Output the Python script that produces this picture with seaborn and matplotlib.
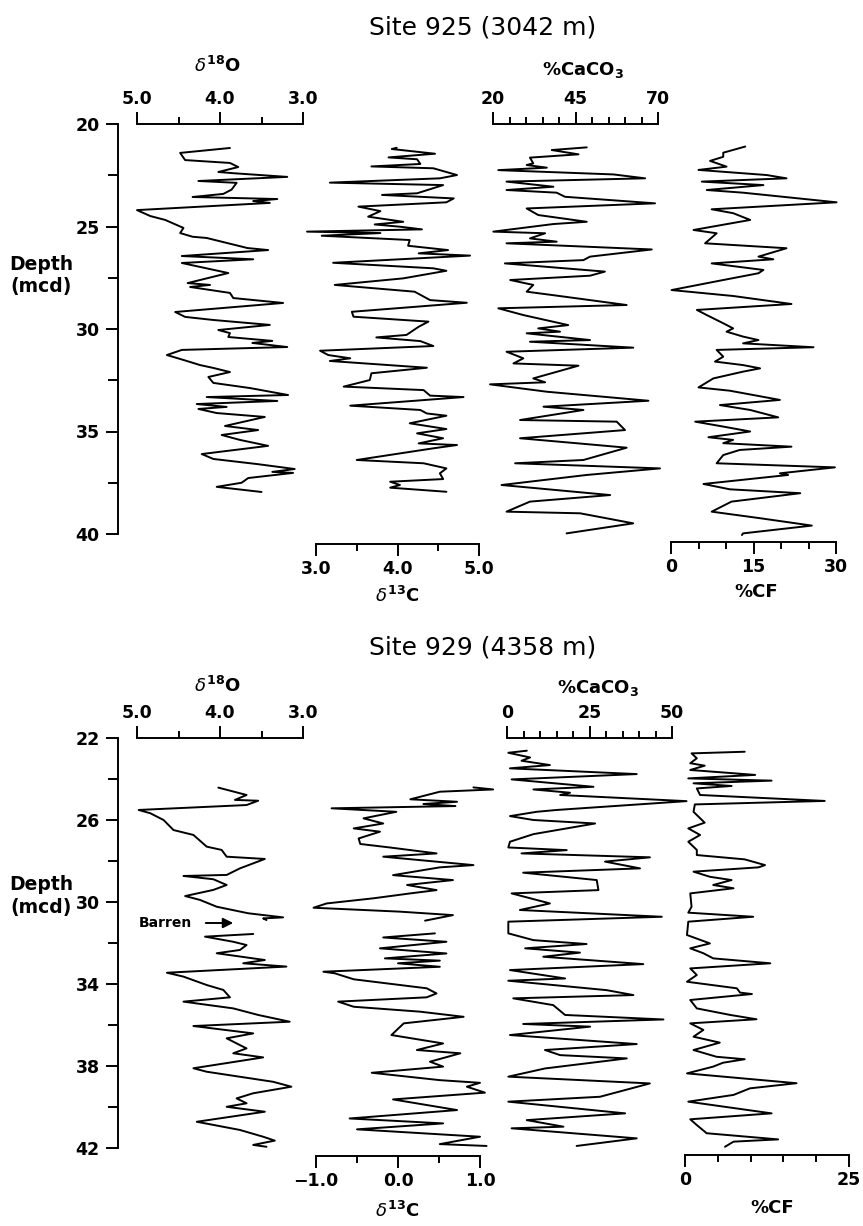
import numpy as np
import pandas as pd
import matplotlib
matplotlib.use("Agg")
import matplotlib.pyplot as plt
import seaborn as sns

# ==================== data ====================
# Site 925
s925_d18o_depth = [21.17, 21.41, 21.76, 21.9, 22.1, 22.34, 22.4, 22.58, 22.78, 22.87, 23.2, 23.41, 23.56, 23.66,
                   23.76, 23.85, 24.2, 24.49, 24.68, 25.07, 25.32, 25.5, 25.56, 26.05, 26.15, 26.44, 26.6, 26.78,
                   27.2, 27.27, 27.76, 27.85, 27.95, 28.24, 28.49, 28.73, 29.17, 29.41, 29.56, 29.8, 30.05, 30.2,
                   30.39, 30.58, 30.68, 30.88, 31.02, 31.27, 31.51, 31.76, 31.9, 32.1, 32.34, 32.63, 32.88, 33.22,
                   33.32, 33.51, 33.66, 33.8, 33.9, 34.1, 34.29, 34.73, 34.93, 35.17, 35.41, 35.7, 36.1, 36.34,
                   36.59, 36.83, 36.97, 37.02, 37.27, 37.5, 37.7, 37.95]
s925_d18o = [3.88, 4.48, 4.42, 3.88, 3.78, 4.02, 3.84, 3.19, 4.26, 3.8, 3.86, 3.96, 4.33, 3.31, 3.6, 3.4, 5.0, 4.84,
             4.66, 4.44, 4.48, 4.33, 4.16, 3.67, 3.42, 4.46, 3.6, 4.46, 3.98, 3.9, 4.39, 4.12, 4.36, 3.88, 3.84, 3.24,
             4.54, 4.42, 4.08, 3.4, 4.02, 3.88, 3.9, 3.37, 3.61, 3.19, 4.46, 4.64, 4.44, 4.24, 4.08, 3.88, 4.14, 4.08,
             3.64, 3.18, 4.16, 3.31, 4.28, 3.92, 4.26, 4.04, 3.46, 3.94, 3.54, 3.98, 3.76, 3.42, 4.22, 4.08, 3.55,
             3.1, 3.37, 3.12, 3.66, 3.74, 4.04, 3.5]

s925_d13c_depth = [21.16, 21.22, 21.45, 21.63, 21.72, 21.95, 22.07, 22.16, 22.49, 22.65, 22.86, 22.98, 23.38, 23.46,
                   23.63, 23.82, 24.03, 24.25, 24.52, 24.77, 24.9, 25.01, 25.14, 25.25, 25.32, 25.45, 25.66, 25.94,
                   26.15, 26.31, 26.42, 26.77, 27.04, 27.16, 27.53, 27.85, 28.18, 28.59, 28.72, 29.16, 29.4, 29.64,
                   29.89, 30.29, 30.41, 30.59, 30.83, 31.06, 31.27, 31.43, 31.56, 31.89, 32.16, 32.49, 32.81, 32.98,
                   33.25, 33.32, 33.74, 33.95, 34.12, 34.23, 34.6, 34.88, 35.09, 35.33, 35.58, 35.66, 35.82, 36.39,
                   36.55, 36.8, 37.04, 37.32, 37.45, 37.61, 37.74, 37.94]
s925_d13c = [3.99, 3.93, 4.46, 3.89, 4.24, 4.28, 3.68, 4.44, 4.73, 4.52, 3.17, 4.56, 4.24, 3.81, 4.69, 4.6, 3.52,
             3.79, 3.64, 4.07, 3.72, 4.03, 4.3, 2.89, 3.79, 3.07, 4.15, 4.13, 4.62, 4.26, 4.89, 3.21, 4.44, 4.6, 4.07,
             3.23, 4.21, 4.4, 4.85, 3.44, 3.46, 4.38, 4.26, 4.11, 3.74, 4.28, 4.44, 3.05, 3.15, 3.42, 3.17, 4.36,
             3.68, 3.66, 3.34, 4.32, 4.4, 4.81, 3.42, 4.28, 4.36, 4.6, 4.15, 4.6, 4.24, 4.56, 4.26, 4.73, 4.44, 3.5,
             4.32, 4.6, 4.52, 4.56, 3.91, 4.03, 3.91, 4.6]

s925_caco3_depth = [21.14, 21.27, 21.48, 21.64, 21.92, 22.0, 22.13, 22.25, 22.46, 22.65, 22.81, 23.06, 23.22, 23.35,
                    23.55, 23.87, 24.12, 24.44, 24.77, 24.88, 25.25, 25.33, 25.58, 25.74, 25.82, 26.12, 26.47, 26.64,
                    26.8, 27.2, 27.4, 27.61, 27.85, 28.18, 28.34, 28.83, 28.99, 29.32, 29.81, 29.97, 30.13, 30.21,
                    30.54, 30.62, 30.91, 31.11, 31.43, 31.68, 31.79, 32.41, 32.6, 32.7, 33.06, 33.5, 33.79, 33.95,
                    34.44, 34.52, 34.93, 35.33, 35.63, 35.79, 36.39, 36.55, 36.8, 37.12, 37.61, 38.1, 38.42, 38.91,
                    38.99, 39.48, 39.97]
s925_caco3 = [48.4, 37.8, 45.9, 31.2, 32.2, 30.2, 36.3, 21.6, 56.5, 66.1, 24.1, 38.3, 24.1, 39.3, 41.8, 69.1, 30.2,
              33.7, 48.4, 38.3, 20.1, 35.8, 31.2, 39.3, 24.1, 68.1, 49.4, 47.4, 23.6, 53.9, 49.4, 25.2, 32.2, 30.2,
              37.8, 60.5, 21.6, 29.2, 42.8, 33.7, 40.3, 30.2, 49.4, 31.2, 62.5, 24.1, 29.2, 26.2, 45.9, 32.2, 35.8,
              19.1, 36.3, 67.1, 35.3, 47.4, 28.2, 57.5, 60.0, 28.2, 49.4, 60.5, 47.4, 26.7, 70.6, 48.4, 22.6, 55.5,
              31.2, 24.1, 46.4, 62.5, 42.3]

s925_cf_depth = [21.1, 21.4, 21.6, 21.8, 22.08, 22.24, 22.49, 22.65, 22.81, 22.98, 23.22, 23.35, 23.82, 24.16, 24.35,
                 24.68, 25.17, 25.33, 25.82, 26.06, 26.47, 26.6, 26.8, 27.12, 27.28, 27.61, 28.1, 28.39, 28.78,
                 29.07, 29.32, 29.72, 29.97, 30.13, 30.37, 30.54, 30.7, 30.89, 31.02, 31.35, 31.59, 31.76, 31.92,
                 32.08, 32.41, 32.85, 33.01, 33.46, 33.71, 33.95, 34.31, 34.52, 34.76, 35.0, 35.28, 35.41, 35.57,
                 35.74, 35.9, 36.15, 36.55, 36.75, 37.04, 37.12, 37.56, 37.82, 38.01, 38.42, 38.91, 39.23, 39.59,
                 39.97, 40.05]
s925_cf = [13.5, 9.5, 9.5, 7.1, 10.1, 5.0, 17.4, 21.0, 5.6, 16.8, 6.5, 13.1, 30.1, 7.4, 11.3, 14.4, 4.1, 8.3, 6.2,
           21.0, 15.9, 18.6, 7.4, 16.8, 15.9, 9.5, 0.1, 11.3, 21.9,
           4.7, 6.5, 9.5, 11.3, 10.1, 13.1, 15.9, 13.1, 25.9, 8.3, 9.5, 8.0, 13.1, 16.2, 13.1, 7.7, 5.0, 10.7, 19.8,
           8.9, 14.4, 19.5, 4.4, 9.5, 14.4, 6.8, 11.3, 9.5, 21.9, 12.5, 9.5, 8.3, 29.8, 19.8, 21.3, 5.9, 10.7, 23.5,
           11.0, 7.4, 16.2, 25.6, 13.1, 12.9]

# Site 929 (nan = barren interval, no isotope data)
s929_d18o_depth = [24.42, 24.78, 25.02, 25.06, 25.27, 25.51, 25.67, 26.0, 26.49, 26.73, 27.3, 27.46, 27.79, 27.9,
                   28.36, 28.68, 28.73, 28.89, 29.17, 29.41, 29.71, 29.9, 30.23, 30.55, 30.75, 30.8, 30.88,
                   31.2,
                   31.56, 31.69, 31.94, 32.1, 32.34, 32.5, 32.83, 32.99, 33.15, 33.45, 33.64, 34.05, 34.29, 34.65,
                   34.86, 35.19, 35.51, 35.84, 36.05, 36.41, 36.65, 36.98, 37.14, 37.38, 37.58, 38.11, 38.28, 38.77,
                   39.01, 39.33, 39.58, 39.82, 39.99, 40.23, 40.72, 41.12, 41.45, 41.64, 41.85, 41.94]
s929_d18o = [4.02, 3.68, 3.82, 3.54, 3.68, 4.98, 4.84, 4.68, 4.56, 4.32, 4.16, 3.98, 3.92, 3.46, 3.76, 3.92, 4.44,
             4.08, 3.92, 4.08, 4.42, 4.24, 4.04, 3.66, 3.24, 3.48, 3.44,
             np.nan,
             3.6, 4.18, 3.84, 3.68, 3.76, 4.04, 3.46, 3.72, 3.2, 4.64, 4.44, 4.16, 3.96, 3.88, 4.44, 3.84, 3.54, 3.16,
             4.32, 3.6, 3.92, 3.76, 3.68, 3.84, 3.48, 4.32, 4.16, 3.36, 3.14, 3.6, 3.8, 3.68, 3.92, 3.46, 4.28, 3.76,
             3.48, 3.34, 3.6, 3.44]

s929_d13c_depth = [24.41, 24.51, 24.62, 24.99, 25.11, 25.22, 25.32, 25.43, 25.6, 25.92, 26.17, 26.41, 26.57, 26.9,
                   27.17, 27.34, 27.63, 27.79, 28.2, 28.31, 28.69, 28.93, 29.17, 29.42, 29.58, 29.82, 30.07, 30.28,
                   30.47, 30.64, 30.91,
                   31.2,
                   31.53, 31.73, 31.94, 32.26, 32.51, 32.75, 32.86, 32.99, 33.16, 33.4, 33.48, 33.77, 34.21, 34.46,
                   34.65, 34.86, 35.11, 35.35, 35.6, 35.92, 36.49, 36.9, 37.22, 37.38, 37.79, 38.03, 38.33, 38.69,
                   38.82, 39.01, 39.3, 39.63, 40.15, 40.56, 40.8, 41.09, 41.45, 41.81, 41.9]
s929_d13c = [0.92, 1.16, 0.51, 0.15, 0.72, 0.31, 0.7, -0.81, -0.02, -0.42, -0.18, -0.54, -0.22, -0.48, -0.46, -0.1,
             0.47, -0.18, 0.92, 0.51, -0.06, 0.67, 0.11, 0.47, 0.15, -0.3, -0.87, -1.03, 0.02, 0.67, 0.33,
             np.nan,
             0.45, -0.18, 0.59, -0.22, 0.59, -0.16, 0.51, 0.0, 0.51, -0.91, -0.77, -0.54, 0.35, 0.47, 0.35, -0.73,
             -0.54, 0.27, 0.8, 0.07, -0.08, 0.55, 0.23, 0.76, 0.39, 0.55, -0.32, 0.51, 1.0, 0.84, 1.06, -0.06, 0.72,
             -0.59, 0.55, -0.5, 1.0, 0.51, 1.08]

s929_caco3_depth = [22.62, 22.72, 22.95, 23.11, 23.32, 23.48, 23.76, 24.02, 24.38, 24.51, 24.67, 24.78, 25.08, 25.51,
                    25.6, 25.81, 26.0, 26.17, 26.69, 27.06, 27.34, 27.47, 27.63, 27.82, 28.03, 28.36, 28.57, 28.93,
                    29.42, 29.58, 30.07, 30.39, 30.72, 30.96, 31.53, 31.86, 32.05, 32.26, 32.47, 32.67, 33.03, 33.32,
                    33.73, 33.84, 34.3, 34.54, 34.7, 35.03, 35.51, 35.73, 35.95, 36.08, 36.49, 36.93, 37.22, 37.47,
                    37.63, 38.12, 38.52, 38.85, 39.5, 39.74, 40.31, 40.64, 40.96, 41.04, 41.53, 41.9]
s929_caco3 = [6.0, 0.4, 7.0, 4.4, 13.0, 0.9, 39.3, 1.4, 26.2, 8.0, 19.1, 16.1, 54.4, 15.1, 9.0, 0.9, 8.0, 26.7, 8.0,
              0.9, 0.4, 18.1, 4.4, 43.3, 29.7, 40.3, 4.9, 27.2, 27.7, 1.4, 13.0, 3.9, 46.9, 0.4, 0.4, 8.0, 24.1, 5.5,
              22.1, 11.0, 41.3, 0.9, 17.6, 0.4, 30.2, 38.3, 1.9, 14.0, 17.6, 47.4, 4.9, 25.2, 0.9, 39.3, 11.5, 16.1,
              36.3, 11.5, 0.4, 43.3, 28.2, 0.4, 35.8, 6.0, 17.1, 1.4, 39.3, 21.1]

s929_cf_depth = [22.67, 22.75, 22.99, 23.23, 23.35, 23.56, 23.8, 23.97, 24.08, 24.21, 24.34, 24.46, 24.78, 25.07,
                 25.24, 25.6, 26.13, 26.41, 26.73, 27.06, 27.46, 27.71, 27.92, 28.2, 28.31, 28.52, 28.77, 28.93,
                 29.17, 29.33, 29.58, 30.23, 30.52, 30.72, 30.96, 31.61, 32.02, 32.26, 32.5, 32.75, 32.99, 33.24,
                 33.56, 33.89, 34.21, 34.42, 34.49, 34.78, 35.19, 35.51, 35.72, 35.92, 36.24, 36.57, 36.86, 37.22,
                 37.55, 37.67, 37.84, 38.03, 38.36, 38.84, 39.09, 39.41, 39.74, 40.31, 40.6, 40.88, 41.28, 41.58,
                 41.69, 41.94]
s929_cf = [9.1, 1.0, 1.8, 0.8, 3.0, 0.8, 10.7, 0.5, 13.2, 1.3, 7.1, 1.8, 2.3, 21.3, 1.5, 1.3, 3.0, 0.5, 2.3, 0.5,
           1.8, 1.8, 9.1, 12.2, 11.2, 1.3, 3.8, 7.1, 4.3, 7.4, 0.8, 1.0, 0.5, 10.4, 0.5, 0.3, 3.8, 0.8, 2.8, 4.3,
           13.0, 0.8, 1.8, 0.3, 7.9, 8.4, 10.2, 0.8, 1.8, 6.9, 10.9, 0.8, 2.8, 1.3, 5.3, 1.3, 4.8, 9.1, 5.8, 4.3,
           0.3, 17.0, 9.9, 7.4, 0.5, 13.2, 0.8, 1.8, 3.3, 14.2, 7.4, 6.1]

# ==================== style ====================
sns.set_style("white")
plt.rcParams["font.family"] = ["DejaVu Sans"]
plt.rcParams["mathtext.fontset"] = "dejavusans"
for key in ["text.color", "axes.labelcolor", "xtick.color", "ytick.color", "axes.edgecolor"]:
    plt.rcParams[key] = "black"

W, H = 863, 1226
fig = plt.figure(figsize=(W / 100, H / 100), dpi=100)
TICK_FS = 12.5
LABEL_FS = 13
LW = 1.4
BOLD = "bold"
D18O_LABEL = r"$\delta^{\mathbf{18}}$O"
D13C_LABEL = r"$\delta^{\mathbf{13}}$C"
CACO3_LABEL = r"%CaCO$_\mathbf{3}$"


def px_axes(x0, x1, y0, y1):
    return fig.add_axes([x0 / W, 1 - y1 / H, (x1 - x0) / W, (y1 - y0) / H])


def ftext(x, y, s, **kw):
    kw.setdefault("ha", "center")
    kw.setdefault("va", "center")
    fig.text(x / W, 1 - y / H, s, **kw)


def draw_curve(ax, depth, value):
    df = pd.DataFrame({"depth": depth, "value": value})
    df["seg"] = df["value"].isna().cumsum()
    df = df.dropna()
    sns.lineplot(data=df, x="value", y="depth", units="seg", estimator=None, sort=False,
                 color="black", linewidth=LW, ax=ax)
    for ln in ax.lines:
        ln.set_clip_on(False)


def style_track(ax, side, xlim, ylim, majors, labels, minors, offset=0):
    ax.set_xlim(xlim)
    ax.set_ylim(ylim)
    ax.patch.set_alpha(0)
    for s in ax.spines.values():
        s.set_visible(False)
    sp = ax.spines[side]
    sp.set_visible(True)
    sp.set_linewidth(1.4)
    sp.set_position(("outward", offset))
    ax.xaxis.set_ticks_position(side)
    ax.set_xticks(majors, labels, fontweight=BOLD)
    ax.set_xticks(minors, minor=True)
    ax.tick_params(axis="x", which="major", direction="out", length=8.5, width=1.4,
                   labelsize=TICK_FS, pad=3)
    ax.tick_params(axis="x", which="minor", direction="out", length=5, width=1.4)
    ax.set_yticks([])
    ax.set_xlabel("")
    ax.set_ylabel("")


def depth_axis(ax, majors, minors):
    sp = ax.spines["left"]
    sp.set_visible(True)
    sp.set_linewidth(1.4)
    sp.set_position(("outward", 14))
    ax.yaxis.set_ticks_position("left")
    ax.set_yticks(majors, [str(m) for m in majors], fontweight=BOLD)
    ax.set_yticks(minors, minor=True)
    ax.tick_params(axis="y", which="major", direction="out", length=9, width=1.4,
                   labelsize=TICK_FS, pad=4)
    ax.tick_params(axis="y", which="minor", direction="out", length=7, width=1.4)


def panel(y0, y1, dlim, dmaj, dmin, d18o, d13c, caco3, cf, specs):
    ax = px_axes(137, 303, y0, y1)
    draw_curve(ax, *d18o)
    style_track(ax, "top", (5.0, 3.0), dlim, [5.0, 4.0, 3.0], ["5.0", "4.0", "3.0"], [4.5, 3.5])
    depth_axis(ax, dmaj, dmin)

    x0, x1, lim, maj, lab, mnr, off = specs["d13c"]
    ax = px_axes(x0, x1, y0, y1)
    draw_curve(ax, *d13c)
    style_track(ax, "bottom", lim, dlim, maj, lab, mnr, off)

    x0, x1, lim, maj, lab, mnr, off = specs["caco3"]
    ax = px_axes(x0, x1, y0, y1)
    draw_curve(ax, *caco3)
    style_track(ax, "top", lim, dlim, maj, lab, mnr, off)

    x0, x1, lim, maj, lab, mnr, off = specs["cf"]
    ax = px_axes(x0, x1, y0, y1)
    draw_curve(ax, *cf)
    style_track(ax, "bottom", lim, dlim, maj, lab, mnr, off)


# ---- Site 925 ----
panel(124, 534, (40, 20), [20, 25, 30, 35, 40], [22.5, 27.5, 32.5, 37.5],
      (s925_d18o_depth, s925_d18o), (s925_d13c_depth, s925_d13c),
      (s925_caco3_depth, s925_caco3), (s925_cf_depth, s925_cf),
      {"d13c": (316, 479, (3.0, 5.0), [3.0, 4.0, 5.0], ["3.0", "4.0", "5.0"], [3.5, 4.5], 7),
       "caco3": (493, 658, (20, 70), [20, 45, 70], ["20", "45", "70"],
                 [25, 30, 35, 40, 50, 55, 60, 65], 0),
       "cf": (671, 836, (0, 30), [0, 15, 30], ["0", "15", "30"], [5, 10, 20, 25], 6)})

# ---- Site 929 ----
panel(738, 1148, (42, 22), [22, 26, 30, 34, 38, 42], [24, 28, 32, 36, 40],
      (s929_d18o_depth, s929_d18o), (s929_d13c_depth, s929_d13c),
      (s929_caco3_depth, s929_caco3), (s929_cf_depth, s929_cf),
      {"d13c": (316, 480, (-1.0, 1.0), [-1.0, 0.0, 1.0], ["\u22121.0", "0.0", "1.0"], [-0.5, 0.5], 6),
       "caco3": (507, 672, (0, 50), [0, 25, 50], ["0", "25", "50"],
                 [5, 10, 15, 20, 30, 35, 40, 45], 0),
       "cf": (685, 849, (0, 25), [0, 25], ["0", "25"], [5, 10, 15, 20], 5)})

# ---- text ----
ftext(483, 28, "Site 925 (3042 m)", fontsize=18)
ftext(217, 66, D18O_LABEL, fontsize=LABEL_FS, fontweight=BOLD)
ftext(583, 70, CACO3_LABEL, fontsize=LABEL_FS, fontweight=BOLD)
ftext(397, 596, D13C_LABEL, fontsize=LABEL_FS, fontweight=BOLD)
ftext(756, 592, "%CF", fontsize=LABEL_FS, fontweight=BOLD)
ftext(41, 276, "Depth\n(mcd)", fontsize=13.5, fontweight=BOLD, linespacing=1.2)

ftext(483, 648, "Site 929 (4358 m)", fontsize=18)
ftext(217, 686, D18O_LABEL, fontsize=LABEL_FS, fontweight=BOLD)
ftext(598, 688, CACO3_LABEL, fontsize=LABEL_FS, fontweight=BOLD)
ftext(397, 1211, D13C_LABEL, fontsize=LABEL_FS, fontweight=BOLD)
ftext(772, 1208, "%CF", fontsize=LABEL_FS, fontweight=BOLD)
ftext(41, 896, "Depth\n(mcd)", fontsize=13.5, fontweight=BOLD, linespacing=1.2)

ftext(165, 923, "Barren", fontsize=10, fontweight=BOLD)
fig.add_artist(matplotlib.patches.FancyArrowPatch(
    (203 / W, 1 - 923 / H), (236 / W, 1 - 923 / H), transform=fig.transFigure,
    arrowstyle="-|>", mutation_scale=15, color="black", linewidth=1.4))

fig.savefig("out.png", dpi=100)
